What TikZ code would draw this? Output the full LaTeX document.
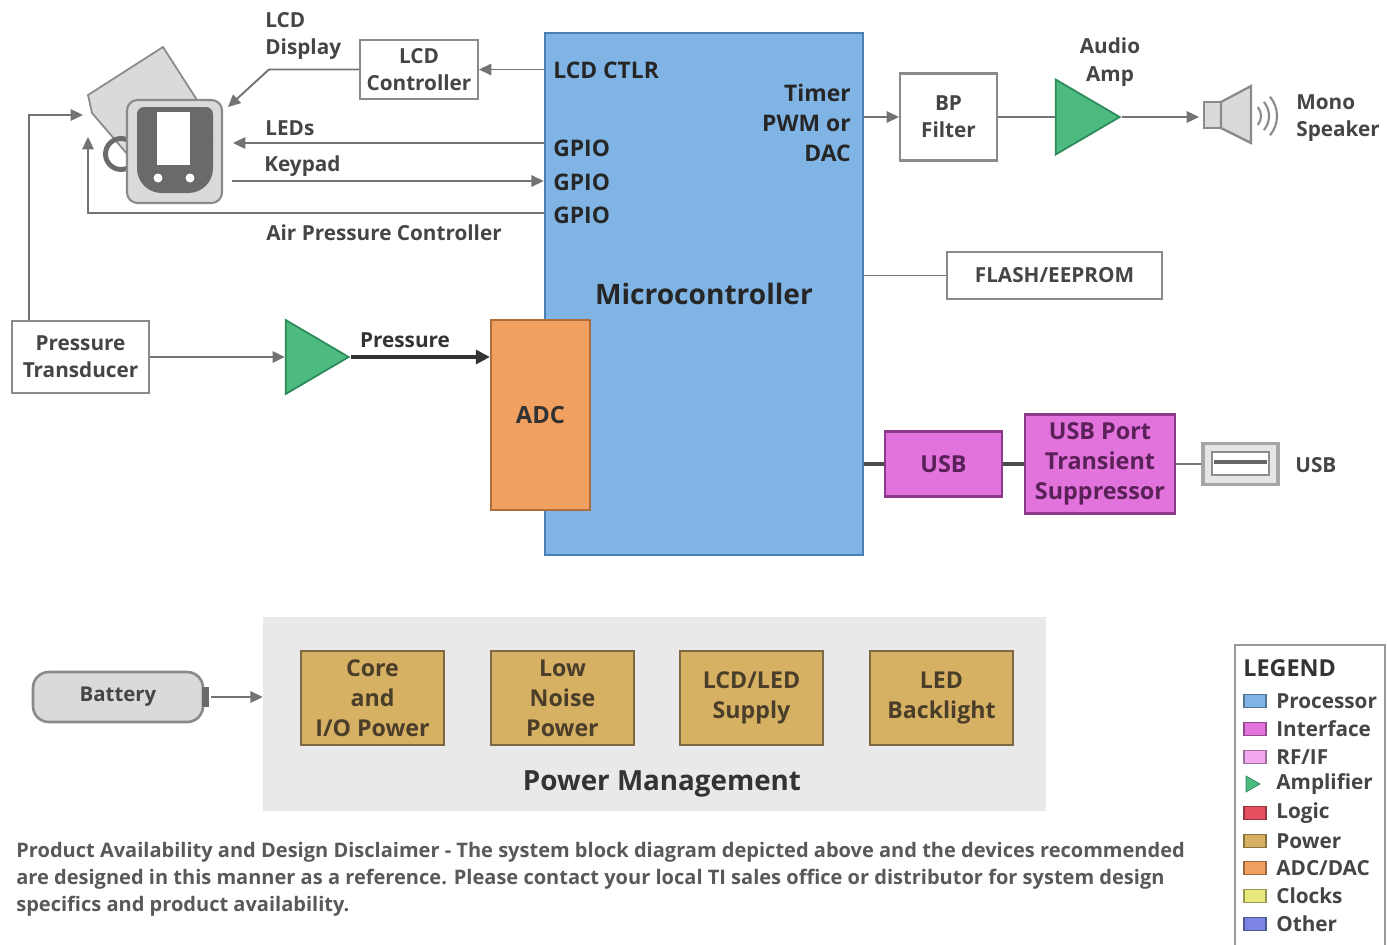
\documentclass[tikz,border=0pt]{standalone}
\usepackage{fontspec}
\setmainfont{Open Sans}
\usetikzlibrary{shapes}
\usetikzlibrary{arrows.meta}
\definecolor{mcublue}{HTML}{80B4E4}
\definecolor{mculine}{HTML}{4A7FB5}
\definecolor{adcorange}{HTML}{F0A060}
\definecolor{adcline}{HTML}{B06E3C}
\definecolor{usbpink}{HTML}{E272DC}
\definecolor{pinkline}{HTML}{8A3A88}
\definecolor{pinktext}{HTML}{5A2058}
\definecolor{pwrtan}{HTML}{D6B163}
\definecolor{tanline}{HTML}{7D6A45}
\definecolor{tantext}{HTML}{4A3E2A}
\definecolor{ampgreen}{HTML}{4DBA80}
\definecolor{ampline}{HTML}{2D8A5A}
\definecolor{linegray}{HTML}{737373}
\definecolor{textgray}{HTML}{454545}
\definecolor{icongray}{HTML}{8A8A8A}
\definecolor{icondark}{HTML}{6A6A6A}
\definecolor{bodygray}{HTML}{DADADA}
\definecolor{pmgray}{HTML}{E9E9E9}
\definecolor{rfpink}{HTML}{F2A8EE}
\definecolor{logicred}{HTML}{E45060}
\definecolor{clockyel}{HTML}{E8E87C}
\definecolor{otherblue}{HTML}{7C84E4}
\tikzset{
    blockw/.style = {rectangle, draw=icongray, line width=1.2pt, fill=white, align=center, inner sep=0pt, text=textgray, font=\bfseries\fontsize{11.8}{15.5}\selectfont},
    blockp/.style = {rectangle, draw=pinkline, line width=1.3pt, fill=usbpink, align=center, inner sep=0pt, text=pinktext, font=\bfseries\fontsize{13.3}{17}\selectfont},
    blockt/.style = {rectangle, draw=tanline, line width=1.3pt, fill=pwrtan, align=center, inner sep=0pt, text=tantext, font=\bfseries\fontsize{13.2}{17}\selectfont, minimum width=2.86cm, minimum height=1.88cm},
    amp/.style = {isosceles triangle, isosceles triangle stretches, shape border rotate=0, draw=ampline, line width=1pt, fill=ampgreen, inner sep=0pt, anchor=apex},
    edgeg/.style = {-{Triangle[length=7pt,width=6.5pt]}, line width=1.1pt, draw=linegray},
    edgek/.style = {-{Triangle[length=8pt,width=8pt]}, line width=1.8pt, draw=black!80}, % signal
    wire/.style = {line width=1.1pt, draw=linegray},
    wirek/.style = {line width=2.4pt, draw=black!70}, % usb bus
    lbl/.style = {inner sep=0pt, text=textgray, font=\bfseries\fontsize{11.8}{15.5}\selectfont},
    mcutxt/.style = {inner sep=0pt, text=black!85, font=\bfseries\fontsize{13}{17}\selectfont},
    legbox/.style = {rectangle, draw=#1!65!black, line width=0.8pt, fill=#1, minimum width=0.44cm, minimum height=0.27cm, inner sep=0pt},
    legtxt/.style = {anchor=west, inner sep=0pt, text=textgray, font=\bfseries\fontsize{11.8}{14}\selectfont}
}
\begin{document}
\begin{tikzpicture}[x=0.02cm, y=-0.02cm]
  \useasboundingbox (0,0) rectangle (1387,944);

  % main blocks
  \node[rectangle, draw=mculine, line width=1.5pt, fill=mcublue, minimum width=6.36cm, minimum height=10.44cm, inner sep=0pt,
        text=black!85, font=\bfseries\fontsize{16}{17}\selectfont] (mcu) at (704,294) {Microcontroller};
  \node[rectangle, draw=adcline, line width=1.3pt, fill=adcorange, minimum width=1.98cm, minimum height=3.8cm, inner sep=0pt,
        text=black!80, font=\bfseries\fontsize{13.5}{17}\selectfont] (adc) at (540.5,415) {ADC};
  \node[blockw, minimum width=2.36cm, minimum height=1.18cm] (lcdc) at (419,69.5) {LCD\\Controller};
  \node[blockw, minimum width=2.74cm, minimum height=1.44cm] (trans) at (80.5,357) {Pressure\\Transducer};
  \node[blockw, minimum width=1.94cm, minimum height=1.74cm] (bpf) at (948.5,117) {BP\\Filter};
  \node[blockw, minimum width=4.3cm, minimum height=0.94cm] (flash) at (1054.5,275.5) {FLASH/EEPROM};
  \node[blockp, minimum width=2.34cm, minimum height=1.3cm] (usb) at (943.5,464) {USB};
  \node[blockp, minimum width=3.0cm, minimum height=1.98cm] (tvs) at (1100,464) {USB Port\\Transient\\Suppressor};
  \node[amp, minimum height=1.26cm, minimum width=1.48cm] (amp1) at (351,357) {};
  \node[amp, minimum height=1.28cm, minimum width=1.5cm] (amp2) at (1122,117) {};

  % texts on the microcontroller
  \node[mcutxt, anchor=west] at (553,70) {LCD CTLR};
  \node[mcutxt, anchor=west] at (553,148) {GPIO};
  \node[mcutxt, anchor=west] at (553,182) {GPIO};
  \node[mcutxt, anchor=west] at (553,215) {GPIO};
  \node[mcutxt, anchor=east, align=right] at (851,123) {Timer\\PWM or\\DAC};

  % blood pressure cuff and monitor
  \draw[fill=bodygray, draw=icongray, line width=1pt] (88,95) -- (163,47) -- (215,128) -- (128,155) -- (92,113) -- cycle;
  \draw[icondark, line width=2.8pt] (121,154) circle (0.31cm);
  \draw[fill=bodygray, draw=icongray, line width=1.2pt, rounded corners=6pt] (127,100) rectangle (222,203);
  \fill[icondark, rounded corners=4pt] (137,107) rectangle (213,150);
  \fill[icondark, rounded corners=14pt] (137,140) -- (137,193) -- (213,193) -- (213,140);
  \fill[white] (157,112) rectangle (190,165);
  \fill[white] (158,178) circle (0.09cm) (190,178) circle (0.09cm);
  \coordinate (disp) at (228,107);
  \coordinate (leds) at (233,143);
  \coordinate (keys) at (232,181);
  \coordinate (air) at (88,137);
  \coordinate (airturn) at (88,213);
  \coordinate (cuff) at (83,115);

  % speaker
  \coordinate (spk) at (1199,117);
  \draw[fill=bodygray, draw=icongray, line width=1.3pt] (1204,102) rectangle (1221,128);
  \draw[fill=bodygray, draw=icongray, line width=1.3pt] (1221,102) -- (1251,86) -- (1251,143) -- (1221,128) -- cycle;
  \foreach \r in {0.28,0.44,0.6}
    \draw[icongray, line width=1.2pt] (1247,116) ++(-40:\r cm) arc[start angle=-40, end angle=40, radius=\r cm];

  % usb receptacle
  \node[rectangle, draw=black!35, line width=2pt, fill=black!10, minimum width=1.5cm, minimum height=0.82cm, inner sep=0pt] (port) at (1240.5,464) {};
  \draw[draw=black!45, line width=1pt, fill=white] (1212,452) rectangle (1269,475);
  \draw[black!60, line width=2.5pt] (1214,462) -- (1267,462);

  % connections
  \draw[edgeg] (mcu.west |- lcdc) -- (lcdc.east);
  \draw[edgeg] (lcdc.west) -- ++(-90,0) -- (disp);
  \draw[edgeg] (leds -| mcu.west) -- (leds);
  \draw[edgeg] (keys) -- (keys -| mcu.west);
  \draw[edgeg] (airturn -| mcu.west) -- (airturn) -- (air);
  \draw[edgeg] ([xshift=0.36cm]trans.north west) |- (cuff);
  \draw[edgeg] (trans.east) -- (amp1.west);
  \draw[edgek] (amp1.apex) -- (amp1.apex -| adc.west);
  \draw[edgeg] (mcu.east |- bpf) -- (bpf.west);
  \draw[wire] (bpf.east) -- (amp2.west);
  \draw[edgeg] (amp2.apex) -- (spk);
  \draw[wire] (mcu.east |- flash) -- (flash.west);
  \draw[wirek] (mcu.east |- usb) -- (usb.west);
  \draw[wirek] (usb.east) -- (tvs.west);
  \draw[wire] (tvs.east) -- (port.west);

  % labels
  \node[lbl, anchor=west, align=left] at (265,36) {LCD\\Display};
  \node[lbl, anchor=west] at (265,128) {LEDs};
  \node[lbl, anchor=west] at (264,166) {Keypad};
  \node[lbl, anchor=west] at (266,233) {Air Pressure Controller};
  \node[lbl, text=black!80] at (405,340) {Pressure};
  \node[lbl, align=center] at (1110,62) {Audio\\Amp};
  \node[lbl, anchor=west, align=left] at (1296,118) {Mono\\Speaker};
  \node[lbl, anchor=west] at (1295,465) {USB};

  % power management
  \node[rectangle, fill=pmgray, minimum width=15.66cm, minimum height=3.88cm, inner sep=0pt] (pm) at (654.5,714) {};
  \node[blockt] (core) at (372.5,698) {Core\\and\\I/O Power};
  \node[blockt] (lnp) at (562.5,698) {Low\\Noise\\Power};
  \node[blockt] (lcdled) at (751.5,698) {LCD/LED\\Supply};
  \node[blockt] (bkl) at (941.5,698) {LED\\Backlight};
  \node[inner sep=0pt, text=black!80, font=\bfseries\fontsize{15.8}{17}\selectfont] at (662,784) {Power Management};
  \node[rectangle, rounded corners=9pt, draw=icongray, line width=1.5pt, fill=bodygray, minimum width=3.4cm, minimum height=1.0cm, inner sep=0pt,
        text=textgray, font=\bfseries\fontsize{11.6}{14}\selectfont] (batt) at (118,697) {Battery};
  \fill[icondark] (202,687) rectangle (209,707);
  \draw[edgeg] ([xshift=0.14cm]batt.east) -- (batt -| pm.west);

  % legend
  \draw[draw=black!40, line width=1.5pt, fill=white] (1235,645) rectangle (1385,950);
  \node[anchor=west, inner sep=0pt, text=black!80, font=\bfseries\fontsize{13.3}{14}\selectfont] at (1243,668) {LEGEND};
  \node[legbox=mcublue] at (1255,701) {};        \node[legtxt] at (1276,701) {Processor};
  \node[legbox=usbpink] at (1255,729) {};        \node[legtxt] at (1276,729) {Interface};
  \node[legbox=rfpink] at (1255,757) {};         \node[legtxt] at (1276,757) {RF/IF};
  \fill[ampgreen, draw=ampline] (1246,776) -- (1260,784) -- (1246,792) -- cycle;
                                                 \node[legtxt] at (1276,784) {Amplifier};
  \node[legbox=logicred] at (1255,813) {};       \node[legtxt] at (1276,813) {Logic};
  \node[legbox=pwrtan] at (1255,841) {};         \node[legtxt] at (1276,841) {Power};
  \node[legbox=adcorange] at (1255,868) {};      \node[legtxt] at (1276,868) {ADC/DAC};
  \node[legbox=clockyel] at (1255,896) {};       \node[legtxt] at (1276,896) {Clocks};
  \node[legbox=otherblue] at (1255,924) {};      \node[legtxt] at (1276,924) {Other};

  % disclaimer
  \node[anchor=north west, align=left, inner sep=0pt, text=black!65, font=\bfseries\fontsize{11.4}{15.4}\selectfont] at (16,842)
    {Product Availability and Design Disclaimer - The system block diagram depicted above and the devices recommended\\
     are designed in this manner as a reference. Please contact your local TI sales office or distributor for system design\\
     specifics and product availability.};
\end{tikzpicture}
\end{document}
